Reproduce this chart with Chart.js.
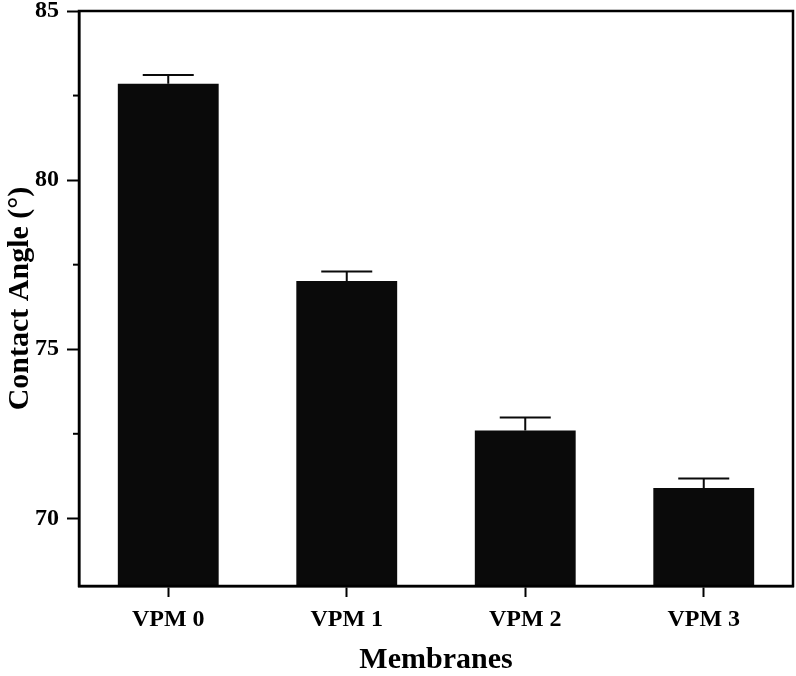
<!DOCTYPE html>
<html>
<head>
<meta charset="utf-8">
<script src="https://cdn.jsdelivr.net/npm/chart.js@4/dist/chart.umd.min.js"></script>
<style>
html,body{margin:0;padding:0;background:#fff;}
#wrap{width:796px;height:676px;position:relative;}
</style>
</head>
<body>
<div id="wrap"><canvas id="c"></canvas></div>
<script>
const categories = ["VPM 0", "VPM 1", "VPM 2", "VPM 3"];
const contactAngle = [82.85, 77.02, 72.6, 70.9];
const contactAngleErr = [0.26, 0.28, 0.38, 0.28];
const yMajorTicks = [70, 75, 80, 85];
const yMinorTicks = [72.5, 77.5, 82.5];

const FONT = "'Liberation Serif', 'Times New Roman', serif";

const framePlugin = {
  id: 'frame',
  afterDatasetsDraw(chart) {
    const ctx = chart.ctx;
    const x = chart.scales.x, y = chart.scales.y;
    const ds = chart.data.datasets[0];
    ctx.save();
    ctx.strokeStyle = '#0a0a0a';
    ctx.lineWidth = 2;
    ds.data.forEach((v, i) => {
      const cx = x.getPixelForValue(i);
      const top = y.getPixelForValue(v);
      const hi = y.getPixelForValue(v + contactAngleErr[i]);
      ctx.beginPath();
      ctx.moveTo(cx, top);
      ctx.lineTo(cx, hi);
      ctx.moveTo(cx - 25.5, hi);
      ctx.lineTo(cx + 25.5, hi);
      ctx.stroke();
    });
    const a = chart.chartArea;
    ctx.lineWidth = 2.5;
    ctx.strokeStyle = '#000';
    ctx.strokeRect(a.left, a.top, a.right - a.left, a.bottom - a.top);
    ctx.lineWidth = 2;
    yMinorTicks.forEach(v => {
      const py = y.getPixelForValue(v);
      ctx.beginPath();
      ctx.moveTo(a.left - 6, py);
      ctx.lineTo(a.left, py);
      ctx.stroke();
    });
    ctx.restore();
  }
};

new Chart(document.getElementById('c'), {
  type: 'bar',
  data: {
    labels: categories,
    datasets: [{
      data: contactAngle,
      backgroundColor: '#0a0a0a',
      borderWidth: 0,
      barPercentage: 0.565,
      categoryPercentage: 1.0
    }]
  },
  options: {
    responsive: true,
    maintainAspectRatio: false,
    animation: false,
    devicePixelRatio: 1,
    layout: { padding: { top: 0, right: 3, left: 0, bottom: 0 } },
    plugins: { legend: { display: false }, tooltip: { enabled: false } },
    scales: {
      x: {
        grid: { display: true, drawOnChartArea: false, drawTicks: true, tickLength: 11, tickWidth: 2, color: '#000', offset: false },
        border: { display: true, color: '#000', width: 2.5 },
        ticks: { color: '#000', padding: 8, font: { family: FONT, size: 24, weight: 'bold' } },
        title: { display: true, text: 'Membranes', color: '#000', font: { family: FONT, size: 30, weight: 'bold', lineHeight: 1 }, padding: { top: 0, bottom: 1 } },
        afterFit(s) { s.height = 90; }
      },
      y: {
        min: 68, max: 85,
        afterBuildTicks(s) { s.ticks = yMajorTicks.map(v => ({ value: v })); },
        grid: { display: true, drawOnChartArea: false, drawTicks: true, tickLength: 12, tickWidth: 2, color: '#000' },
        border: { display: true, color: '#000', width: 2.5 },
        ticks: { color: '#000', padding: 8, font: { family: FONT, size: 24, weight: 'bold' } },
        title: { display: true, text: 'Contact Angle (°)', color: '#000', font: { family: FONT, size: 30, weight: 'bold', lineHeight: 1.2 }, padding: { top: 2, bottom: 0 } },
        afterFit(s) { s.width = 79; s.paddingTop = 11; s.paddingBottom = 0; }
      }
    }
  },
  plugins: [framePlugin]
});
</script>
</body>
</html>
